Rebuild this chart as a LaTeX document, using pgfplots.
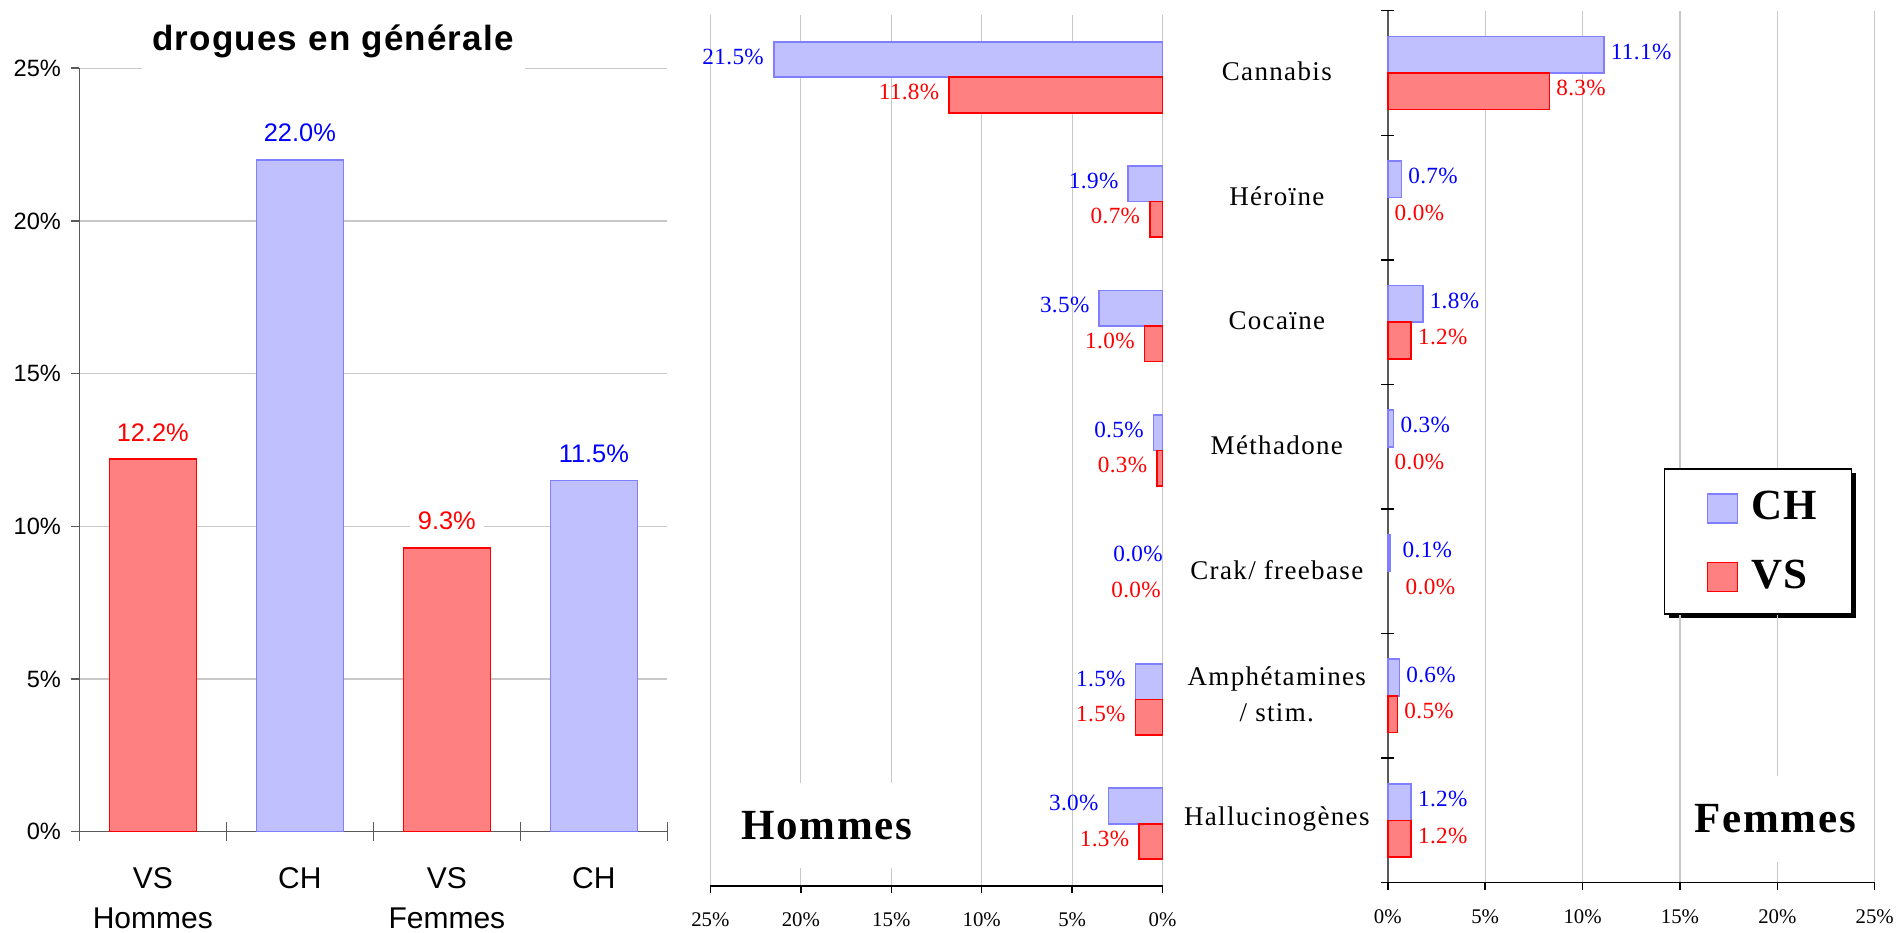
\documentclass[border=0pt]{standalone}
\usepackage{pgfplots}
\pgfplotsset{compat=1.18}
\usepackage{pgfplotstable}
\usepackage{fontspec}
\setmainfont{Liberation Serif}
\newfontfamily\sans{Liberation Sans}
\newfontfamily\sanstitle[LetterSpace=3.5]{Liberation Sans}
\newfontfamily\serlab[LetterSpace=1.5]{Liberation Serif}
\newfontfamily\sercat[LetterSpace=5]{Liberation Serif}
\newfontfamily\serbold[LetterSpace=4]{Liberation Serif}

\definecolor{chfill}{RGB}{192,192,255}
\definecolor{chedge}{RGB}{128,128,255}
\definecolor{vsfill}{RGB}{255,128,128}
\definecolor{vsedge}{RGB}{255,0,0}
\definecolor{lblue}{RGB}{0,0,255}
\definecolor{lred}{RGB}{255,0,0}
\definecolor{gridgray}{RGB}{200,200,200}
\definecolor{axgray}{RGB}{90,90,90}

% overall (left chart)
\pgfplotstableread{
x val
0 12.2
2 9.3
}\gvs
\pgfplotstableread{
x val
1 22.0
3 11.5
}\gch

% cat: 0 Cannabis, 1 Heroine, 2 Cocaine, 3 Methadone, 4 Crak, 5 Amphetamines, 6 Hallucinogenes
\pgfplotstableread{
cat ch vs chdx vsdx
0 21.5 11.8 0 0
1 1.9 0.7 0 0
2 3.5 1.0 0 0
3 0.5 0.3 0 0
4 0.0 0.0 5 4
5 1.5 1.5 0 0
6 3.0 1.3 0 0
}\hommes
\pgfplotstableread{
cat ch vs chdx vsdx
0 11.1 8.3 0 0
1 0.7 0.0 0 0
2 1.8 1.2 0 0
3 0.3 0.0 0 0
4 0.1 0.0 3 5.5
5 0.6 0.5 0 0
6 1.2 1.2 0 0
}\femmes

\begin{document}
\begin{tikzpicture}
\useasboundingbox (0pt,0pt) rectangle (948pt,466pt);

% ---------------- left chart ----------------
\begin{axis}[
  at={(39.65pt,50.15pt)}, anchor=south west, scale only axis,
  width=294.05pt, height=381.7pt,
  xmin=-0.5, xmax=3.5, ymin=0, ymax=25,
  ybar, bar width=43.5pt, bar shift=0pt,
  axis x line=bottom, axis y line=left,
  axis line style={-, axgray, line width=0.8pt},
  ytick={0,5,10,15,20,25}, yticklabels={0\%,5\%,10\%,15\%,20\%,25\%},
  ymajorgrids, major grid style={gridgray, line width=0.6pt},
  tick align=outside, major tick length=4pt, tick style={axgray, line width=0.8pt},
  xtick={0,1,2,3}, xticklabels={{VS\\Hommes},CH,{VS\\Femmes},CH},
  xtick style={draw=none},
  xticklabel style={align=center, font=\sans\fontsize{15}{20}\selectfont, anchor=north, inner sep=0pt, yshift=-13.5pt},
  yticklabel style={font=\sans\fontsize{11.8}{13}\selectfont, anchor=east, inner sep=0pt, xshift=-5pt},
  /pgf/number format/assume math mode=true,
  nodes near coords={\pgfmathprintnumber[fixed,fixed zerofill,precision=1]{\pgfplotspointmeta}\%},
  every node near coord/.append style={font=\sans\fontsize{12.7}{14}\selectfont, anchor=base, yshift=9pt, fill=white, inner xsep=4pt, inner ysep=2pt},
  clip=false,
]
\addplot[fill=vsfill, draw=vsedge, line width=0.8pt, every node near coord/.append style={text=lred}] table[x=x, y=val]{\gvs};
\addplot[fill=chfill, draw=chedge, line width=0.8pt, every node near coord/.append style={text=lblue}] table[x=x, y=val]{\gch};
\pgfplotsinvokeforeach{-0.5,0.5,1.5,2.5,3.5}{
  \draw[axgray, line width=0.8pt] (axis cs:#1,0) ++(0pt,4.85pt) -- ++(0pt,-9.7pt);
}
\end{axis}
\fill[white] (71pt,430pt) rectangle (262.5pt,434pt);
\node[anchor=base, font=\sanstitle\bfseries\fontsize{17.5}{20}\selectfont, inner sep=0pt] at (166.5pt,440.65pt) {drogues en générale};

% ---------------- Hommes ----------------
\begin{axis}[
  at={(355.2pt,23pt)}, anchor=south west, scale only axis,
  width=226.1pt, height=435.5pt,
  xmin=0, xmax=25, x dir=reverse,
  ymin=-0.5, ymax=6.5, y dir=reverse,
  xbar, bar width=17.75pt,
  axis x line=bottom, axis y line=none,
  axis line style={-, black, line width=0.7pt},
  xtick={0,5,10,15,20,25}, xticklabels={0\%,5\%,10\%,15\%,20\%,25\%},
  ytick=\empty,
  xmajorgrids, major grid style={gridgray, line width=0.6pt},
  tick align=outside, major tick length=3.5pt, tick style={black, line width=0.7pt},
  xticklabel style={font=\rmfamily\fontsize{10.4}{12}\selectfont, anchor=base, inner sep=0pt, yshift=-16.85pt},
  /pgf/number format/assume math mode=true,
  clip=false,
]
\addplot[fill=chfill, draw=chedge, line width=0.8pt, bar shift=8.875pt, x filter/.expression={x==0 ? nan : x}] table[x=ch, y=cat]{\hommes};
\addplot[fill=vsfill, draw=vsedge, line width=0.8pt, bar shift=-8.875pt, x filter/.expression={x==0 ? nan : x}] table[x=vs, y=cat]{\hommes};
\addplot[draw=none, fill=none, bar shift=8.875pt, forget plot,
  visualization depends on={\thisrow{chdx}\as\dx},
  nodes near coords={\pgfmathprintnumber[fixed,fixed zerofill,precision=1]{\pgfplotspointmeta}\%},
  every node near coord/.append style={font=\serlab\fontsize{11.6}{13}\selectfont, text=lblue, anchor=east, inner sep=0pt, xshift=-4.75pt, xshift=\dx pt, yshift=1.5pt}]
  table[x=ch, y=cat]{\hommes};
\addplot[draw=none, fill=none, bar shift=-8.875pt, forget plot,
  visualization depends on={\thisrow{vsdx}\as\dx},
  nodes near coords={\pgfmathprintnumber[fixed,fixed zerofill,precision=1]{\pgfplotspointmeta}\%},
  every node near coord/.append style={font=\serlab\fontsize{11.6}{13}\selectfont, text=lred, anchor=east, inner sep=0pt, xshift=-4.75pt, xshift=\dx pt, yshift=1.5pt}]
  table[x=vs, y=cat]{\hommes};
\end{axis}
\fill[white] (367.5pt,32pt) rectangle (462.5pt,74.5pt);
\node[anchor=base, font=\serbold\bfseries\fontsize{21.5}{24}\selectfont, inner sep=0pt] at (413.5pt,46pt) {Hommes};

% ---------------- Femmes ----------------
% legend shadow (the legend box itself is drawn by pgfplots on top of it)
\fill[black] (834.5pt,156.8pt) rectangle (928pt,229.3pt);
\begin{axis}[
  at={(693.9pt,24.65pt)}, anchor=south west, scale only axis,
  width=243.45pt, height=436pt,
  xmin=0, xmax=25,
  ymin=-0.5, ymax=6.5, y dir=reverse,
  xbar, bar width=18.3pt,
  axis x line=bottom, axis y line=left,
  axis line style={-, line width=0.7pt},
  x axis line style={black}, y axis line style={axgray},
  xtick={0,5,10,15,20,25}, xticklabels={0\%,5\%,10\%,15\%,20\%,25\%},
  ytick={0,1,2,3,4,5,6},
  yticklabels={Cannabis,Héroïne,Cocaïne,Méthadone,Crak/ freebase,{Amphétamines\\/ stim.},Hallucinogènes},
  ytick style={draw=none},
  xmajorgrids, major grid style={gridgray, line width=0.6pt},
  tick align=outside, major tick length=3.5pt, tick style={black, line width=0.7pt},
  xticklabel style={font=\rmfamily\fontsize{10.4}{12}\selectfont, anchor=base, inner sep=0pt, yshift=-16.85pt},
  yticklabel style={font=\sercat\fontsize{13.5}{18}\selectfont, align=center, anchor=center, inner sep=0pt, xshift=-52pt, yshift=0.8pt},
  /pgf/number format/assume math mode=true,
  legend style={at={(0.5673,0.4752)}, anchor=north west, draw=black, line width=0.6pt, fill=white,
    font=\serbold\bfseries\fontsize{21.5}{24}\selectfont,
    minimum width=93.5pt, minimum height=72.5pt, inner sep=0pt,
    row sep=16.5pt, column sep=5.35pt,
    nodes={inner sep=1pt, minimum width=0pt, minimum height=0pt}},
  legend cell align=left,
  legend image code/.code={\path (-5pt,0pt);\draw[#1, line width=0.6pt] (0pt,-7.9pt) rectangle (15pt,6.6pt);},
  clip=false,
]
\addplot[fill=chfill, draw=chedge, line width=0.8pt, bar shift=9.15pt, x filter/.expression={x==0 ? nan : x}] table[x=ch, y=cat]{\femmes};
\addlegendentry{CH}
\addplot[fill=vsfill, draw=vsedge, line width=0.8pt, bar shift=-9.15pt, x filter/.expression={x==0 ? nan : x}] table[x=vs, y=cat]{\femmes};
\addlegendentry{VS}
\addplot[draw=none, fill=none, bar shift=9.15pt, forget plot,
  visualization depends on={\thisrow{chdx}\as\dx},
  nodes near coords={\pgfmathprintnumber[fixed,fixed zerofill,precision=1]{\pgfplotspointmeta}\%},
  every node near coord/.append style={font=\serlab\fontsize{11.6}{13}\selectfont, text=lblue, anchor=west, inner sep=0pt, xshift=3.25pt, xshift=\dx pt, yshift=1.5pt}]
  table[x=ch, y=cat]{\femmes};
\addplot[draw=none, fill=none, bar shift=-9.15pt, forget plot,
  visualization depends on={\thisrow{vsdx}\as\dx},
  nodes near coords={\pgfmathprintnumber[fixed,fixed zerofill,precision=1]{\pgfplotspointmeta}\%},
  every node near coord/.append style={font=\serlab\fontsize{11.6}{13}\selectfont, text=lred, anchor=west, inner sep=0pt, xshift=3.25pt, xshift=\dx pt, yshift=1.5pt}]
  table[x=vs, y=cat]{\femmes};
\pgfplotsinvokeforeach{-0.5,0.5,1.5,2.5,3.5,4.5,5.5,6.5}{
  \draw[black, line width=0.7pt] (axis cs:0,#1) ++(-3.25pt,0pt) -- ++(6.5pt,0pt);
}
\end{axis}
\fill[white] (845pt,35pt) rectangle (931pt,78pt);
\node[anchor=base, font=\serbold\bfseries\fontsize{21.5}{24}\selectfont, inner sep=0pt] at (887.65pt,49.5pt) {Femmes};

\end{tikzpicture}
\end{document}
